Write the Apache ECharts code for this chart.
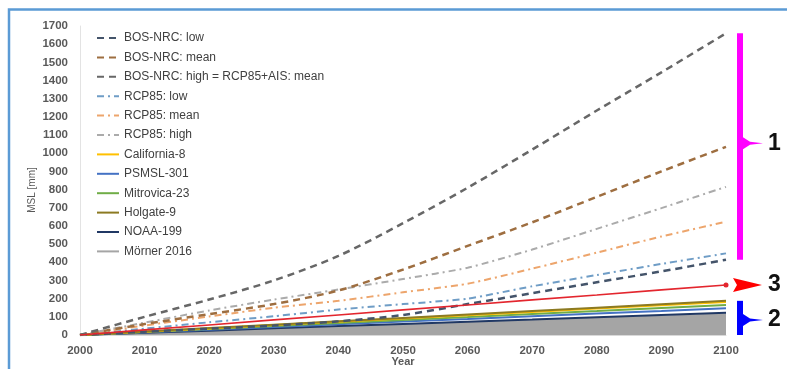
<!DOCTYPE html>
<html>
<head>
<meta charset="utf-8">
<script src="https://cdn.jsdelivr.net/npm/echarts/dist/echarts.min.js"></script>
<style>
  html, body { margin: 0; padding: 0; background: #ffffff; }
  #chart { width: 787px; height: 369px; }
</style>
</head>
<body>
<div id="chart"></div>
<script>
// Sea level projections vs. observed trends, 2000-2100 (MSL in mm)
const years = [2000, 2010, 2020, 2030, 2040, 2050, 2060, 2070, 2080, 2090, 2100];

const bosNrcLow  = [0, 18, 35, 52, 75, 110, 170, 230, 290, 350, 414];
const bosNrcMean = [0, 60, 115, 170, 245, 360, 490, 620, 760, 900, 1035];
const bosNrcHigh = [0, 100, 195, 300, 435, 615, 810, 1020, 1235, 1445, 1660];
const rcp85Low   = [0, 35, 70, 103, 140, 170, 200, 268, 330, 391, 449];
const rcp85Mean  = [0, 52, 102, 150, 188, 235, 282, 365, 453, 542, 623];
const rcp85High  = [0, 68, 135, 195, 250, 308, 370, 470, 584, 698, 815];
const california8 = [0, 18, 36, 55, 73, 91, 109, 127, 146, 164, 182];
const psmsl301    = [0, 15, 29, 44, 59, 74, 88, 103, 118, 132, 147];
const mitrovica23 = [0, 17, 33, 50, 66, 83, 99, 116, 132, 149, 165];
const holgate9    = [0, 19, 38, 56, 75, 94, 113, 132, 150, 169, 188];
const noaa199     = [0, 12, 24, 37, 49, 61, 73, 85, 98, 110, 122];
const morner2016  = [0, 11, 23, 34, 46, 57, 69, 80, 92, 103, 115];
const redTrend    = [0, 28, 55, 83, 110, 138, 165, 193, 220, 248, 275];

const yTicks = { min: 0, max: 1700, step: 100 };
const xTicks = { min: 2000, max: 2100, step: 10 };

const legendNames = [
  'BOS-NRC: low', 'BOS-NRC: mean', 'BOS-NRC: high = RCP85+AIS: mean',
  'RCP85: low', 'RCP85: mean', 'RCP85: high',
  'California-8', 'PSMSL-301', 'Mitrovica-23', 'Holgate-9', 'NOAA-199', 'Mörner 2016'
];

const DASH = [7, 5];
const DASHDOT = [7, 4, 2, 4];

function pairs(vals) { return years.map((y, i) => [y, vals[i]]); }

function lineSeries(name, vals, color, dash, width, smooth, z) {
  return {
    name: name, type: 'line', data: pairs(vals),
    symbol: 'none', showSymbol: false, smooth: smooth || false, z: z || 3,
    lineStyle: { color: color, width: width, type: dash || 'solid' },
    itemStyle: { color: color },
    emphasis: { disabled: true }, animation: false
  };
}

const series = [
  lineSeries('Mörner 2016', morner2016, '#a5a5a5', null, 1.5, false, 1),
  lineSeries('NOAA-199', noaa199, '#203864', null, 2),
  lineSeries('PSMSL-301', psmsl301, '#4472c4', null, 2),
  lineSeries('Mitrovica-23', mitrovica23, '#70ad47', null, 2),
  lineSeries('California-8', california8, '#ffc000', null, 2),
  lineSeries('Holgate-9', holgate9, '#8c7a22', null, 2),
  lineSeries('BOS-NRC: low', bosNrcLow, '#44546a', DASH, 2.5, 0.3),
  lineSeries('RCP85: low', rcp85Low, '#6f9dc6', DASHDOT, 2, 0.2),
  lineSeries('RCP85: mean', rcp85Mean, '#eda56c', DASHDOT, 2, 0.2),
  lineSeries('RCP85: high', rcp85High, '#ababab', DASHDOT, 2, 0.2),
  lineSeries('BOS-NRC: mean', bosNrcMean, '#9e6e40', DASH, 2.5, 0.3),
  lineSeries('BOS-NRC: high = RCP85+AIS: mean', bosNrcHigh, '#676767', DASH, 2.5, 0.3)
];
series[0].areaStyle = { color: '#a5a5a5', opacity: 1 };

// red trend line with a dot at its end
const redData = pairs(redTrend).map((p, i) =>
  i === redTrend.length - 1 ? { value: p, symbol: 'circle', symbolSize: 5 } : { value: p, symbol: 'none' });
series.push({
  name: 'trend', type: 'line', data: redData, showSymbol: true, symbol: 'none', z: 4,
  lineStyle: { color: '#e3262e', width: 1.6 }, itemStyle: { color: '#e3262e' },
  emphasis: { disabled: true }, animation: false
});

const FONT = 'Liberation Sans, Arial, sans-serif';
const labelFont = { color: '#595959', fontSize: 11.5, fontWeight: 'bold', fontFamily: FONT };
const plain = v => String(v);

const chart = echarts.init(document.getElementById('chart'), null, { renderer: 'canvas' });
chart.setOption({
  animation: false,
  backgroundColor: '#ffffff',
  grid: { left: 80, right: 61, top: 26, bottom: 34, containLabel: false, outerBoundsMode: 'none' },
  legend: {
    data: legendNames, orient: 'vertical', left: 91, top: 27,
    itemWidth: 22, itemHeight: 12, itemGap: 7.4,
    itemStyle: { opacity: 0, borderWidth: 0 },
    textStyle: { color: '#404040', fontSize: 12, fontFamily: FONT },
    selectedMode: false
  },
  xAxis: {
    type: 'value', min: xTicks.min, max: xTicks.max, interval: xTicks.step,
    axisLine: { show: true, lineStyle: { color: '#d9d9d9' } },
    axisTick: { show: false }, splitLine: { show: false },
    axisLabel: Object.assign({ margin: 10, formatter: plain }, labelFont)
  },
  yAxis: {
    type: 'value', min: yTicks.min, max: yTicks.max, interval: yTicks.step,
    axisLine: { show: true, lineStyle: { color: '#e3e3e3' } },
    axisTick: { show: false }, splitLine: { show: false },
    axisLabel: Object.assign({ margin: 12, formatter: plain }, labelFont)
  },
  series: series
});

// Range brackets and arrow on the right, positioned from data values
function px(x, y) { return chart.convertToPixel({ gridIndex: 0 }, [x, y]); }
const endYear = years[years.length - 1];
const last = a => a[a.length - 1];
const bx = px(endYear, 0)[0] + 14;
const xMid = (px(years[0], 0)[0] + px(endYear, 0)[0]) / 2;

function bracket(topVal, botVal, ptrVal, color, label) {
  const t = px(endYear, topVal)[1], b = px(endYear, botVal)[1], p = px(endYear, ptrVal)[1];
  return [
    { type: 'rect', shape: { x: bx - 3, y: t, width: 6, height: b - t }, style: { fill: color } },
    { type: 'polygon', shape: { points: [[bx + 3, p - 6], [bx + 10, p - 1.5], [bx + 23, p], [bx + 10, p + 1.5], [bx + 3, p + 6]] }, style: { fill: color } },
    { type: 'text', x: bx + 28, y: p, style: { text: label, fill: '#111111', font: 'bold 23px ' + FONT, textVerticalAlign: 'middle' } }
  ];
}

const redEnd = px(endYear, last(redTrend));
const graphics = [
  { type: 'polyline', shape: { points: [[9, 369], [9, 9.5], [787, 9.5]] }, style: { stroke: '#5b9bd5', lineWidth: 2.5, fill: null } },
  // axis titles
  { type: 'text', x: 32, y: 190, rotation: Math.PI / 2,
    style: { text: 'MSL [mm]', fill: '#595959', font: '10px ' + FONT, textAlign: 'center', textVerticalAlign: 'middle' } },
  { type: 'text', x: xMid, y: 362,
    style: { text: 'Year', fill: '#595959', font: 'bold 11px ' + FONT, textAlign: 'center', textVerticalAlign: 'middle' } },
  ...bracket(last(bosNrcHigh), last(bosNrcLow), 1055, '#ff00ff', '1'),
  ...bracket(last(holgate9), 0, 82, '#0000ff', '2'),
  { type: 'polygon', shape: { points: [[bx - 7, redEnd[1] - 7], [bx + 22, redEnd[1]], [bx - 7, redEnd[1] + 7], [bx - 3, redEnd[1]]] }, style: { fill: '#ff0000' } },
  { type: 'text', x: bx + 28, y: redEnd[1], style: { text: '3', fill: '#111111', font: 'bold 23px ' + FONT, textVerticalAlign: 'middle' } }
];
chart.setOption({ graphic: graphics });
</script>
</body>
</html>
